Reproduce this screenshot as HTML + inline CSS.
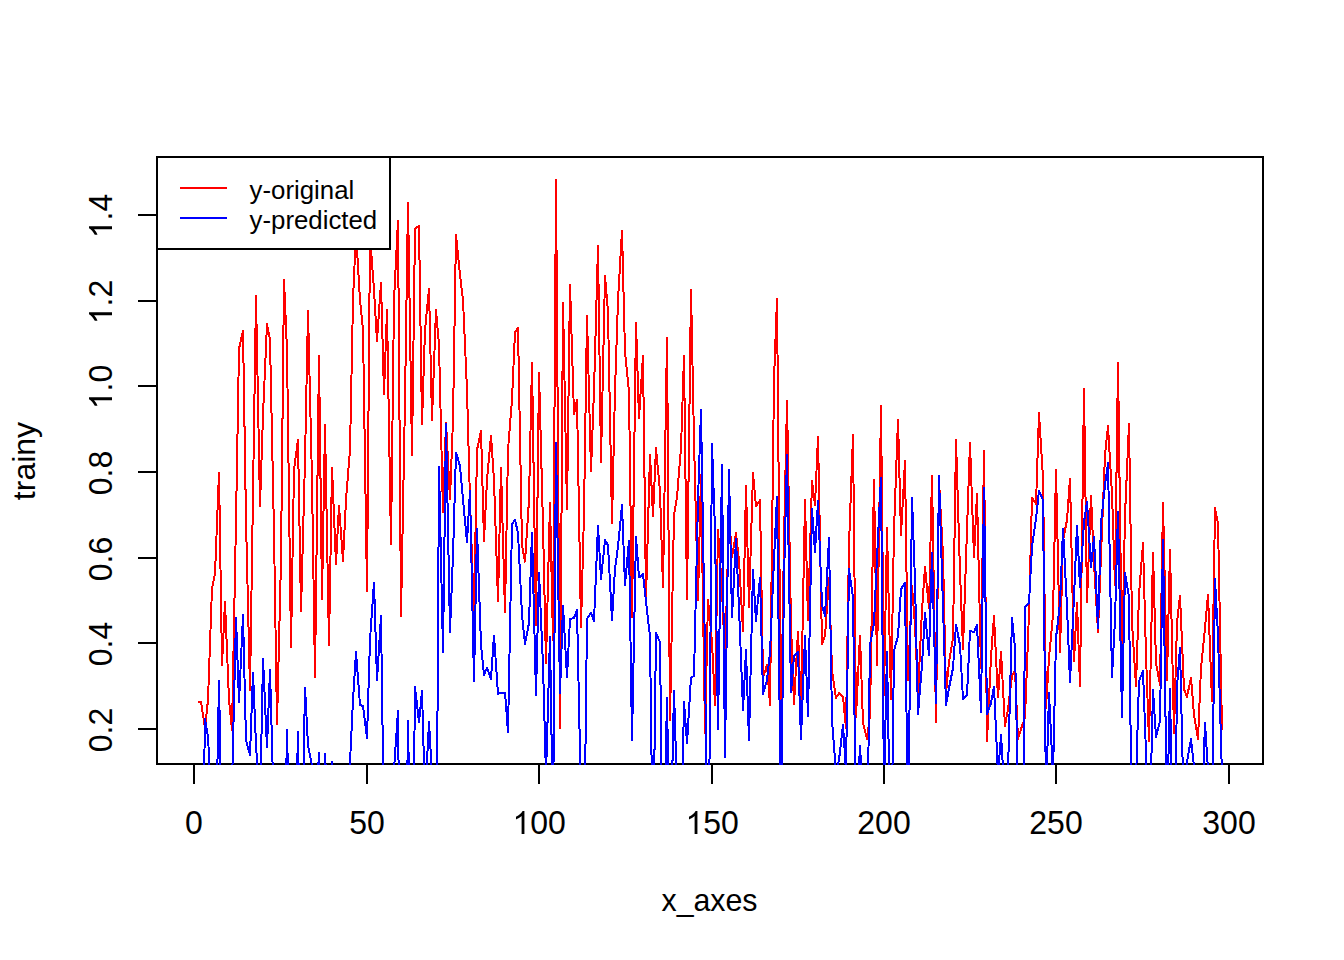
<!DOCTYPE html>
<html><head><meta charset="utf-8"><title>plot</title>
<style>
html,body{margin:0;padding:0;background:#fff;}
body{width:1344px;height:960px;overflow:hidden;font-family:"Liberation Sans",sans-serif;}
svg{display:block}
text{font-family:"Liberation Sans",sans-serif;fill:#000}
</style></head><body>
<svg width="1344" height="960" viewBox="0 0 1344 960" shape-rendering="crispEdges">
<rect width="1344" height="960" fill="#fff"/>
<defs><clipPath id="c"><rect x="156" y="156" width="1108" height="609"/></clipPath></defs>
<g clip-path="url(#c)" fill="none" stroke-width="2" stroke-linejoin="round" stroke-linecap="butt">
<polyline stroke="#ff0000" points="198,702.0 201,702.0 205,728.0 208,700.0 212,588.0 215,574.0 219,472.5 222,665.0 225,602.0 229,700.0 232,730.0 236,520.0 239,349.0 243,330.5 246,520.0 250,690.0 253,493.0 256,296.0 260,506.0 263,415.0 267,324.0 270,340.0 274,532.0 277,724.0 281,560.0 284,279.5 287,350.0 291,647.5 294,470.0 298,439.5 301,611.0 305,460.0 308,311.0 312,480.0 315,677.5 319,355.5 322,599.0 325,425.0 329,645.0 332,468.0 336,564.0 339,505.5 343,561.0 346,500.0 350,450.0 353,300.0 356,232.0 360,300.0 363,330.0 367,591.0 370,236.0 374,290.0 377,341.0 381,282.5 384,394.0 387,310.0 391,543.8 394,300.0 398,220.8 401,616.0 405,400.0 408,202.5 412,455.0 415,228.8 419,225.8 422,423.8 425,330.0 429,288.8 432,420.0 436,310.0 439,345.0 443,512.5 446,422.5 450,499.0 453,420.0 456,234.5 460,275.0 463,300.0 467,390.0 470,500.0 474,616.0 477,450.0 481,430.5 484,541.0 487,480.0 491,435.8 494,480.0 498,601.0 501,467.5 505,612.5 508,450.0 512,400.0 515,332.0 518,328.0 522,545.0 525,561.7 529,500.0 532,362.5 536,625.0 539,372.5 543,525.0 546,663.0 550,502.5 553,640.0 556,179.5 560,728.0 563,302.5 567,509.2 570,284.5 574,414.2 577,399.7 581,626.7 584,513.0 587,316.2 591,470.8 594,390.0 598,246.2 601,461.7 605,276.2 608,312.0 612,523.0 615,390.0 618,300.0 622,230.5 625,352.0 629,392.0 632,617.5 636,322.5 639,418.0 643,355.5 646,598.0 650,454.5 653,515.8 656,448.3 660,491.0 663,587.5 667,337.5 670,720.0 674,515.0 677,497.0 681,448.0 684,356.2 687,599.0 691,289.5 694,440.0 698,600.0 701,475.0 705,733.0 708,600.0 712,642.0 715,705.0 718,530.0 722,590.0 725,660.0 729,515.0 732,557.0 736,533.0 739,560.0 743,631.0 746,486.3 749,607.0 753,473.3 756,506.0 760,500.3 763,678.0 767,665.0 770,705.0 774,380.0 777,298.8 781,728.0 784,540.0 787,401.3 791,625.0 794,704.0 798,631.5 801,710.0 805,500.3 808,620.0 812,481.3 815,505.0 818,436.7 822,644.0 825,636.0 829,578.0 832,670.0 836,698.0 839,693.0 843,697.0 846,728.0 849,545.0 853,435.3 856,716.7 860,635.5 863,723.0 867,739.0 870,715.0 874,479.5 877,665.0 881,406.3 884,695.0 887,528.3 891,699.0 894,530.0 898,419.5 901,535.0 905,461.3 908,680.0 912,586.0 915,625.0 918,694.0 922,610.0 925,567.0 929,608.0 932,476.3 936,722.5 939,480.0 943,555.0 946,693.0 949,662.0 953,638.0 956,440.3 960,572.0 963,649.0 967,530.0 970,443.3 974,557.5 977,493.8 981,668.0 984,450.5 987,741.0 991,657.0 994,616.3 998,697.5 1001,651.5 1005,725.8 1008,709.0 1012,676.0 1015,670.0 1018,739.0 1022,726.0 1025,718.0 1029,613.0 1032,497.5 1036,503.8 1039,413.2 1043,478.0 1046,708.0 1049,658.0 1053,615.0 1056,469.5 1060,652.5 1063,540.0 1067,520.0 1070,478.8 1074,661.0 1077,602.5 1080,686.0 1084,388.8 1087,602.5 1091,495.5 1094,563.0 1098,631.7 1101,555.0 1105,455.0 1108,426.2 1112,494.0 1115,585.0 1118,362.5 1122,665.0 1125,515.0 1129,423.8 1132,623.0 1136,686.0 1139,595.0 1143,543.3 1146,655.0 1149,741.0 1153,552.5 1156,663.0 1160,685.0 1163,502.5 1167,680.0 1170,549.6 1174,733.0 1177,623.0 1180,595.5 1184,689.0 1187,696.7 1191,677.5 1194,715.0 1198,739.0 1201,668.0 1205,628.0 1208,594.7 1212,701.0 1215,508.2 1218,523.0 1222,730.0"/>
</g>
<rect x="157" y="157" width="1106" height="607" fill="none" stroke="#000" stroke-width="2"/>
<g stroke="#000" stroke-width="2" fill="none">
<path d="M194 764H1229"/>
<path d="M194 764v20M367 764v20M539 764v20M712 764v20M884 764v20M1056 764v20M1229 764v20"/>
<path d="M157 729V215"/>
<path d="M157 729h-19M157 643h-19M157 558h-19M157 472h-19M157 386h-19M157 301h-19M157 215h-19"/>
</g>
<g clip-path="url(#c)" fill="none" stroke-width="2" stroke-linejoin="round" stroke-linecap="butt">
<polyline stroke="#0000ff" points="198,960.0 201,960.0 205,718.8 208,737.0 212,810.0 215,890.0 219,681.2 222,850.0 225,880.0 229,880.0 232,785.0 236,617.5 239,702.5 243,615.0 246,740.0 250,755.0 253,672.5 256,745.0 260,810.0 263,658.8 267,747.5 270,670.0 274,815.0 277,880.0 281,880.0 284,910.0 287,729.5 291,910.0 294,900.0 298,732.0 301,910.0 305,687.5 308,745.0 312,766.0 315,830.0 319,752.5 322,830.0 325,753.8 329,830.0 332,762.0 336,850.0 339,850.0 343,850.0 346,830.0 350,762.0 353,700.0 356,652.0 360,705.0 363,706.0 367,738.0 370,640.0 374,582.5 377,680.0 381,616.0 384,832.0 387,800.0 391,800.0 394,770.0 398,710.5 401,1000.0 405,960.0 408,721.0 412,960.0 415,687.0 419,722.5 422,690.8 425,800.0 429,722.0 432,775.0 436,960.0 439,467.0 443,651.7 446,423.8 450,631.7 453,555.0 456,452.5 460,466.0 463,500.0 467,541.8 470,491.2 474,681.0 477,529.0 481,645.0 484,675.0 487,667.5 491,678.8 494,635.5 498,693.8 501,693.0 505,692.5 508,732.0 512,524.0 515,520.0 518,533.0 522,615.0 525,644.0 529,623.0 532,532.5 536,695.0 539,572.5 543,665.0 546,775.0 550,636.5 553,830.0 556,443.3 560,693.0 563,605.8 567,676.7 570,619.0 574,618.0 577,609.7 581,800.0 584,872.0 587,619.0 591,612.5 594,620.8 598,525.5 601,579.0 605,540.3 608,545.0 612,620.0 615,569.0 618,546.7 622,505.3 625,585.0 629,540.8 632,740.0 636,536.7 639,577.5 643,574.0 646,601.7 650,636.7 653,870.0 656,632.5 660,642.5 663,890.0 667,697.5 670,880.0 674,690.8 677,790.0 681,860.0 684,701.7 687,743.0 691,677.5 694,676.0 698,500.0 701,410.3 705,653.0 708,950.0 712,444.2 715,530.0 718,729.0 722,465.3 725,757.5 729,470.3 732,617.5 736,539.0 739,608.0 743,710.0 746,650.0 749,740.0 753,570.0 756,621.0 760,577.5 763,694.0 767,680.0 770,653.0 774,560.0 777,496.7 781,820.0 784,580.0 787,455.3 791,691.7 794,656.0 798,651.7 801,739.0 805,636.0 808,716.0 812,509.2 815,551.7 818,501.2 822,605.0 825,616.0 829,538.3 832,720.0 836,772.0 839,760.0 843,724.7 846,772.0 849,569.0 853,597.0 856,830.0 860,746.0 863,800.0 867,850.0 870,645.0 874,623.0 877,558.0 881,477.5 884,790.0 887,651.7 891,880.0 894,651.0 898,636.0 901,589.0 905,583.0 908,840.0 912,498.3 915,581.0 918,714.0 922,665.0 925,613.0 929,655.0 932,552.5 936,703.0 939,476.3 943,606.7 946,705.0 949,688.0 953,668.0 956,624.7 960,645.0 963,699.0 967,695.0 970,631.0 974,632.0 977,625.0 981,711.7 984,487.5 987,714.0 991,703.0 994,686.7 998,775.0 1001,735.0 1005,800.0 1008,772.0 1012,618.3 1015,648.0 1018,790.0 1022,1000.0 1025,607.0 1029,603.0 1032,546.7 1036,519.0 1039,490.8 1043,500.0 1046,800.0 1049,693.0 1053,775.0 1056,638.0 1060,603.0 1063,528.8 1067,606.7 1070,682.5 1074,597.0 1077,525.5 1080,586.7 1084,522.0 1087,501.8 1091,566.7 1094,536.7 1098,628.0 1101,523.0 1105,485.0 1108,463.2 1112,676.7 1115,620.0 1118,511.8 1122,716.7 1125,572.5 1129,597.0 1132,850.0 1136,780.0 1139,681.0 1143,671.0 1146,753.0 1149,860.0 1153,690.0 1156,737.0 1160,721.0 1163,539.5 1167,820.0 1170,689.0 1174,920.0 1177,687.0 1180,647.5 1184,822.0 1187,762.0 1191,739.0 1194,766.0 1198,850.0 1201,845.0 1205,722.5 1208,770.0 1212,832.0 1215,579.0 1218,635.0 1222,776.0"/>
</g>
<g font-size="32" text-anchor="middle" shape-rendering="geometricPrecision">
<g transform="translate(194,834)"><text transform="scale(1,1.05)" x="-8.90" y="0" text-anchor="start">0</text></g><g transform="translate(367,834)"><text transform="scale(1,1.05)" x="-17.80" y="0" text-anchor="start">50</text></g><g transform="translate(539.2,834)"><path transform="translate(-26.70,0) scale(0.015625,-0.015625)" d="M763 0H583V1147Q518 1085 412.5 1023Q307 961 223 930V1104Q374 1175 487 1276Q600 1377 647 1472H763Z" fill="#000"/><text transform="scale(1,1.05)" x="-8.90" y="0" text-anchor="start">00</text></g><g transform="translate(712.2,834)"><path transform="translate(-26.70,0) scale(0.015625,-0.015625)" d="M763 0H583V1147Q518 1085 412.5 1023Q307 961 223 930V1104Q374 1175 487 1276Q600 1377 647 1472H763Z" fill="#000"/><text transform="scale(1,1.05)" x="-8.90" y="0" text-anchor="start">50</text></g><g transform="translate(884,834)"><text transform="scale(1,1.05)" x="-26.70" y="0" text-anchor="start">200</text></g><g transform="translate(1056,834)"><text transform="scale(1,1.05)" x="-26.70" y="0" text-anchor="start">250</text></g><g transform="translate(1229,834)"><text transform="scale(1,1.05)" x="-26.70" y="0" text-anchor="start">300</text></g>
<text transform="translate(709.5,911) scale(0.948,1)">x_axes</text>
<g transform="translate(112,730) rotate(-90)"><text transform="scale(1,1.05)" x="-22.24" y="0" text-anchor="start">0.2</text></g><g transform="translate(112,644) rotate(-90)"><text transform="scale(1,1.05)" x="-22.24" y="0" text-anchor="start">0.4</text></g><g transform="translate(112,559) rotate(-90)"><text transform="scale(1,1.05)" x="-22.24" y="0" text-anchor="start">0.6</text></g><g transform="translate(112,473) rotate(-90)"><text transform="scale(1,1.05)" x="-22.24" y="0" text-anchor="start">0.8</text></g><g transform="translate(112,387) rotate(-90)"><path transform="translate(-22.24,0) scale(0.015625,-0.015625)" d="M763 0H583V1147Q518 1085 412.5 1023Q307 961 223 930V1104Q374 1175 487 1276Q600 1377 647 1472H763Z" fill="#000"/><text transform="scale(1,1.05)" x="-4.45" y="0" text-anchor="start">.0</text></g><g transform="translate(112,302) rotate(-90)"><path transform="translate(-22.24,0) scale(0.015625,-0.015625)" d="M763 0H583V1147Q518 1085 412.5 1023Q307 961 223 930V1104Q374 1175 487 1276Q600 1377 647 1472H763Z" fill="#000"/><text transform="scale(1,1.05)" x="-4.45" y="0" text-anchor="start">.2</text></g><g transform="translate(112,216) rotate(-90)"><path transform="translate(-22.24,0) scale(0.015625,-0.015625)" d="M763 0H583V1147Q518 1085 412.5 1023Q307 961 223 930V1104Q374 1175 487 1276Q600 1377 647 1472H763Z" fill="#000"/><text transform="scale(1,1.05)" x="-4.45" y="0" text-anchor="start">.4</text></g>
<text transform="translate(35,461) rotate(-90)">trainy</text>
</g>
<rect x="157" y="157" width="233" height="92" fill="#fff" stroke="#000" stroke-width="2"/>
<path d="M180 188h47" stroke="#ff0000" stroke-width="2"/>
<path d="M180 218h47" stroke="#0000ff" stroke-width="2"/>
<g font-size="25.8" shape-rendering="geometricPrecision"><text x="249.6" y="198.7">y-original</text><text x="249.6" y="228.7">y-predicted</text></g>
</svg>
</body></html>
